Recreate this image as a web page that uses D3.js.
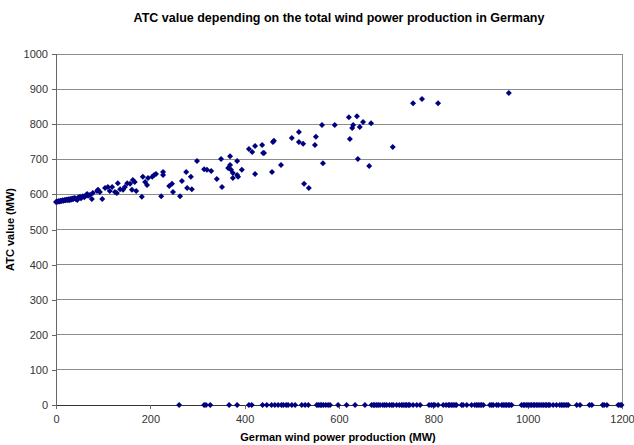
<!DOCTYPE html>
<html>
<head>
<meta charset="utf-8">
<script src="https://cdn.jsdelivr.net/npm/d3@7"></script>
<style>
  html, body { margin: 0; padding: 0; background: #fff; }
  svg { display: block; }
</style>
</head>
<body>
<svg id="chart" width="634" height="445"></svg>
<script>
const title = "ATC value depending on the total wind power production in Germany";
const xLabel = "German wind power production (MW)";
const yLabel = "ATC value (MW)";
const xTicks = [0, 200, 400, 600, 800, 1000, 1200];
const yTicks = [0, 100, 200, 300, 400, 500, 600, 700, 800, 900, 1000];

// wind production (MW) and ATC value (MW) for hours with non-zero ATC
const windMW = [0, 2, 4, 6, 8, 10, 12, 14, 16, 18, 20, 22, 24, 26, 28, 30, 32, 34, 36, 38,
  40, 42, 45, 47, 51, 53, 57, 60, 63, 66, 68, 72, 76, 78, 87, 89, 93, 98, 104, 110,
  114, 119, 125, 129, 131, 136, 142, 146, 151, 157, 161, 163, 167, 170, 182, 184, 189, 193, 195, 204,
  208, 212, 223, 227, 227, 240, 246, 248, 263, 267, 276, 278, 286, 288, 299, 314, 320, 329, 341, 350,
  352, 365, 369, 369, 371, 375, 375, 384, 384, 386, 394, 409, 416, 422, 422, 437, 439, 441, 458, 460,
  462, 477, 500, 515, 515, 524, 526, 536, 549, 551, 564, 566, 591, 621, 623, 628, 630, 638, 640, 644,
  651, 664, 668, 714, 757, 776, 810, 960];
const atcMW = [578, 580, 579, 581, 580, 582, 581, 583, 582, 584, 583, 585, 584, 586, 583, 587, 585, 588, 586, 589,
  590, 587, 584, 591, 593, 589, 595, 592, 597, 601, 596, 598, 587, 604, 610, 613, 607, 587, 618, 621,
  610, 621, 607, 604, 632, 615, 613, 621, 632, 630, 613, 641, 635, 610, 593, 650, 635, 627, 647, 650,
  655, 658, 595, 664, 655, 624, 630, 607, 595, 638, 664, 618, 650, 615, 695, 672, 670, 667, 644, 701,
  621, 675, 709, 684, 670, 661, 647, 695, 655, 650, 670, 729, 721, 738, 658, 741, 718, 718, 664, 749,
  753, 684, 761, 778, 749, 744, 630, 618, 741, 764, 798, 689, 798, 820, 758, 789, 798, 823, 701, 792,
  806, 681, 803, 735, 860, 872, 860, 889];

// wind production (MW) for hours with ATC = 0
const zeroWindMW = [261, 314, 318, 327, 367, 384, 409, 415, 438, 447, 457, 464, 471, 478, 482, 488,
  492, 500, 507, 521, 528, 535, 553, 556, 560, 563, 567, 572, 577, 581, 598, 616, 634, 655, 669, 673,
  676, 680, 683, 687, 693, 697, 701, 707, 712, 715, 722, 728, 733, 736, 740, 743, 747, 750, 757, 765,
  772, 791, 796, 800, 803, 810, 821, 827, 832, 835, 839, 842, 846, 849, 860, 863, 871, 881, 888, 892,
  895, 899, 902, 906, 920, 924, 927, 934, 938, 945, 948, 952, 955, 959, 962, 966, 987, 991, 994, 998,
  1001, 1005, 1008, 1012, 1015, 1019, 1022, 1026, 1030, 1033, 1037, 1040, 1044, 1047, 1054, 1061, 1068,
  1072, 1075, 1079, 1083, 1086, 1104, 1111, 1131, 1136, 1159, 1162, 1168, 1192, 1196, 1199];

const points = windMW.map((w, i) => ({ x: w, y: atcMW[i] }))
  .concat(zeroWindMW.map(w => ({ x: w, y: 0 })));

const svg = d3.select("#chart");
const margin = { left: 56, right: 12, top: 54, bottom: 40 };
const W = 634, H = 445;
const x = d3.scaleLinear().domain([0, 1200]).range([margin.left, W - margin.right]);
const y = d3.scaleLinear().domain([0, 1000]).range([H - margin.bottom, margin.top]);

const font = "'Liberation Sans', Arial, sans-serif";

// title
svg.append("text")
  .attr("x", 339).attr("y", 22)
  .attr("text-anchor", "middle")
  .style("font-family", font).style("font-weight", "bold").style("font-size", "12.5px")
  .attr("fill", "#000")
  .text(title);

// gridlines
svg.append("g")
  .selectAll("line").data(yTicks.filter(d => d > 0)).join("line")
  .attr("x1", x(0)).attr("x2", x(1200))
  .attr("y1", d => y(d)).attr("y2", d => y(d))
  .attr("stroke", "#8c8c8c").attr("stroke-width", 1)
  .attr("shape-rendering", "crispEdges");

// right border of plot area
svg.append("line")
  .attr("x1", x(1200)).attr("x2", x(1200))
  .attr("y1", y(0)).attr("y2", y(1000))
  .attr("stroke", "#8c8c8c").attr("shape-rendering", "crispEdges");

// y axis
const yAxis = svg.append("g")
  .attr("transform", `translate(${x(0)},0)`)
  .call(d3.axisLeft(y).tickValues(yTicks).tickSize(4).tickPadding(4).tickFormat(d3.format("d")));
// x axis
const xAxis = svg.append("g")
  .attr("transform", `translate(0,${y(0)})`)
  .call(d3.axisBottom(x).tickValues(xTicks).tickSize(4).tickPadding(6).tickFormat(d3.format("d")));

[yAxis, xAxis].forEach(g => {
  g.select(".domain").attr("stroke", "#666").attr("shape-rendering", "crispEdges");
  g.selectAll(".tick line").attr("stroke", "#666").attr("shape-rendering", "crispEdges");
  g.selectAll(".tick text")
    .style("font-family", font).style("font-size", "11px").attr("fill", "#333");
});
xAxis.select(".domain").attr("stroke", "#333");

// axis titles
svg.append("text")
  .attr("x", 338).attr("y", 441)
  .attr("text-anchor", "middle")
  .style("font-family", font).style("font-weight", "bold").style("font-size", "11px")
  .text(xLabel);
svg.append("text")
  .attr("transform", `translate(14,${(y(0) + y(1000)) / 2}) rotate(-90)`)
  .attr("text-anchor", "middle")
  .style("font-family", font).style("font-weight", "bold").style("font-size", "11px")
  .text(yLabel);

// markers (diamonds)
const diamond = "M0,-3L3,0L0,3L-3,0Z";
svg.append("g")
  .selectAll("path").data(points).join("path")
  .attr("d", diamond)
  .attr("transform", d => `translate(${x(d.x)},${y(d.y)})`)
  .attr("fill", "#000080");
</script>
</body>
</html>
